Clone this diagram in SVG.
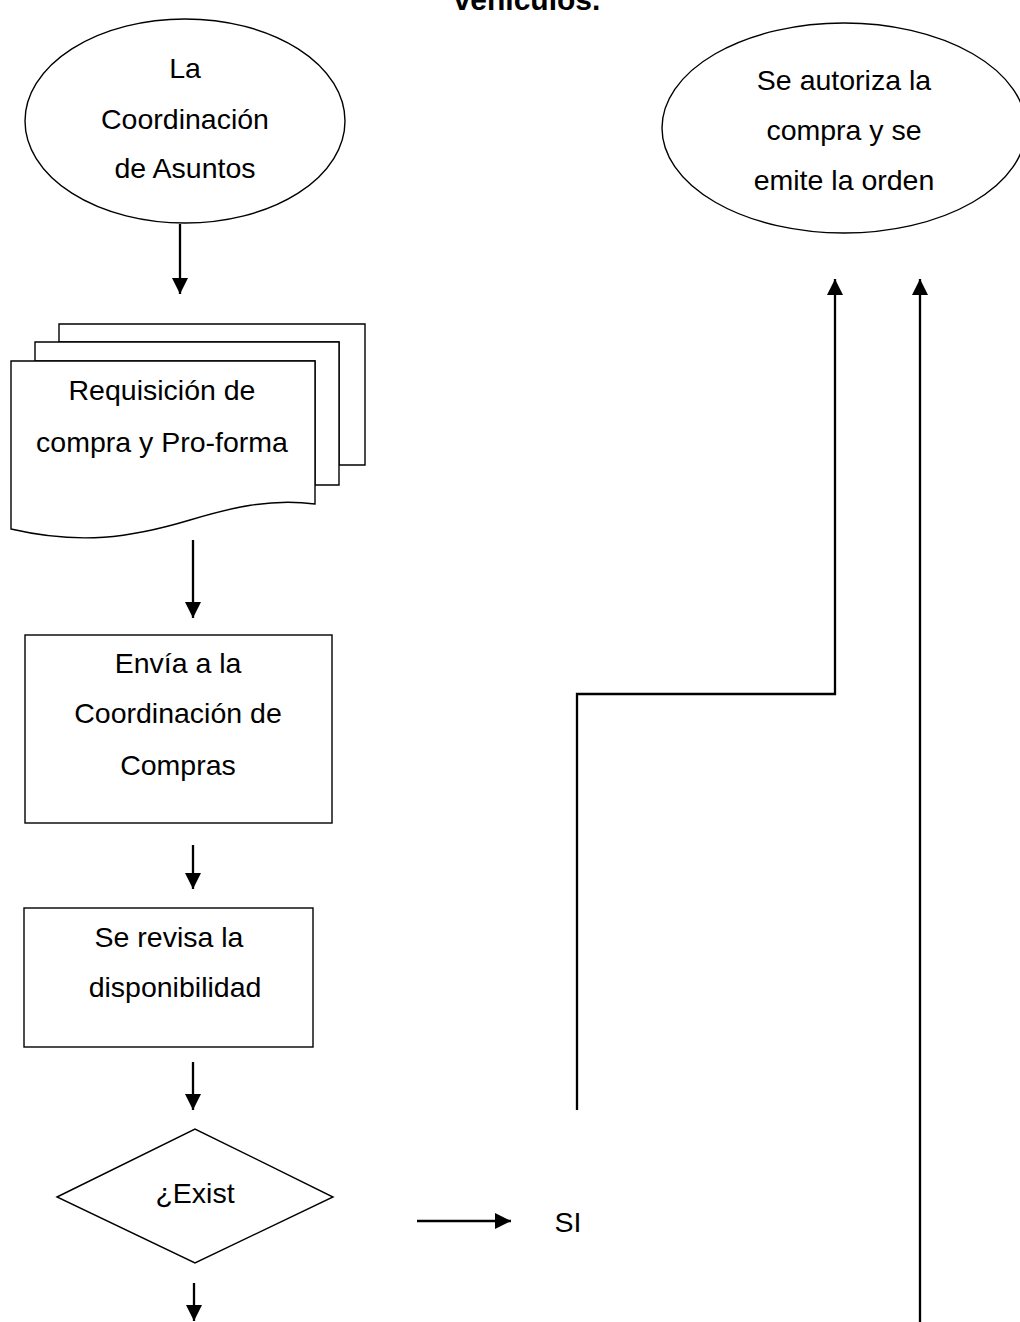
<svg xmlns="http://www.w3.org/2000/svg" width="1020" height="1322" viewBox="0 0 1020 1322">
<defs>
<marker id="ah" markerUnits="userSpaceOnUse" markerWidth="18" markerHeight="16" viewBox="0 0 16 16" refX="16" refY="8" orient="auto">
<path d="M0,0 L16,8 L0,16 Z" fill="#000"/>
</marker>
</defs>
<style>
.t{font-family:"Liberation Sans",Arial,sans-serif;font-size:28.5px;fill:#000;text-anchor:middle}
.title{font-family:"Liberation Sans",Arial,sans-serif;font-size:30px;font-weight:bold;fill:#000;text-anchor:middle}
.s{fill:#fff;stroke:#000;stroke-width:1.4}
.c{fill:none;stroke:#000;stroke-width:2.3}
</style>
<rect width="1020" height="1322" fill="#fff"/>
<text class="title" x="527" y="10">vehículos.</text>
<g id="n1">
<ellipse class="s" cx="185" cy="121" rx="160" ry="102"/>
<text class="t" x="185" y="78">La</text>
<text class="t" x="185" y="129">Coordinación</text>
<text class="t" x="185" y="178">de Asuntos</text>
</g>
<g id="n2">
<path class="s" d="M59,342 V324 H365 V465 H339 V342 Z"/>
<path class="s" d="M35,361 V342 H339 V485 H315 V361 Z"/>
<path class="s" d="M11,361 H315 V504 C 270,498 230,508 190,520 C 130,538 80,545 11,529 Z"/>
<text class="t" x="162" y="400">Requisición de</text>
<text class="t" x="162" y="452">compra y Pro-forma</text>
</g>
<g id="n3">
<rect class="s" x="25" y="635" width="307" height="188"/>
<text class="t" x="178" y="673">Envía a la</text>
<text class="t" x="178" y="723">Coordinación de</text>
<text class="t" x="178" y="775">Compras</text>
</g>
<g id="n4">
<rect class="s" x="24" y="908" width="289" height="139"/>
<text class="t" x="169" y="947">Se revisa la</text>
<text class="t" x="175" y="997">disponibilidad</text>
</g>
<g id="n5">
<path class="s" d="M57,1197 L195,1129 L333,1197 L195,1263 Z"/>
<text class="t" x="195" y="1203">¿Exist</text>
</g>
<g id="n6">
<ellipse class="s" cx="844" cy="128" rx="182" ry="105"/>
<text class="t" x="844" y="90">Se autoriza la</text>
<text class="t" x="844" y="140">compra y se</text>
<text class="t" x="844" y="190">emite la orden</text>
</g>
<g id="n7">
<text class="t" x="568" y="1232">SI</text>
</g>
<g id="connectors">
<line class="c" x1="180" y1="224" x2="180" y2="294" marker-end="url(#ah)"/>
<line class="c" x1="193" y1="540" x2="193" y2="618" marker-end="url(#ah)"/>
<line class="c" x1="193" y1="845" x2="193" y2="889" marker-end="url(#ah)"/>
<line class="c" x1="193" y1="1062" x2="193" y2="1110" marker-end="url(#ah)"/>
<line class="c" x1="194" y1="1283" x2="194" y2="1321" marker-end="url(#ah)"/>
<line class="c" x1="417" y1="1221" x2="511" y2="1221" marker-end="url(#ah)"/>
<polyline class="c" points="577,1110 577,694 835,694 835,279" marker-end="url(#ah)"/>
<line class="c" x1="920" y1="1322" x2="920" y2="279" marker-end="url(#ah)"/>
</g>
</svg>
